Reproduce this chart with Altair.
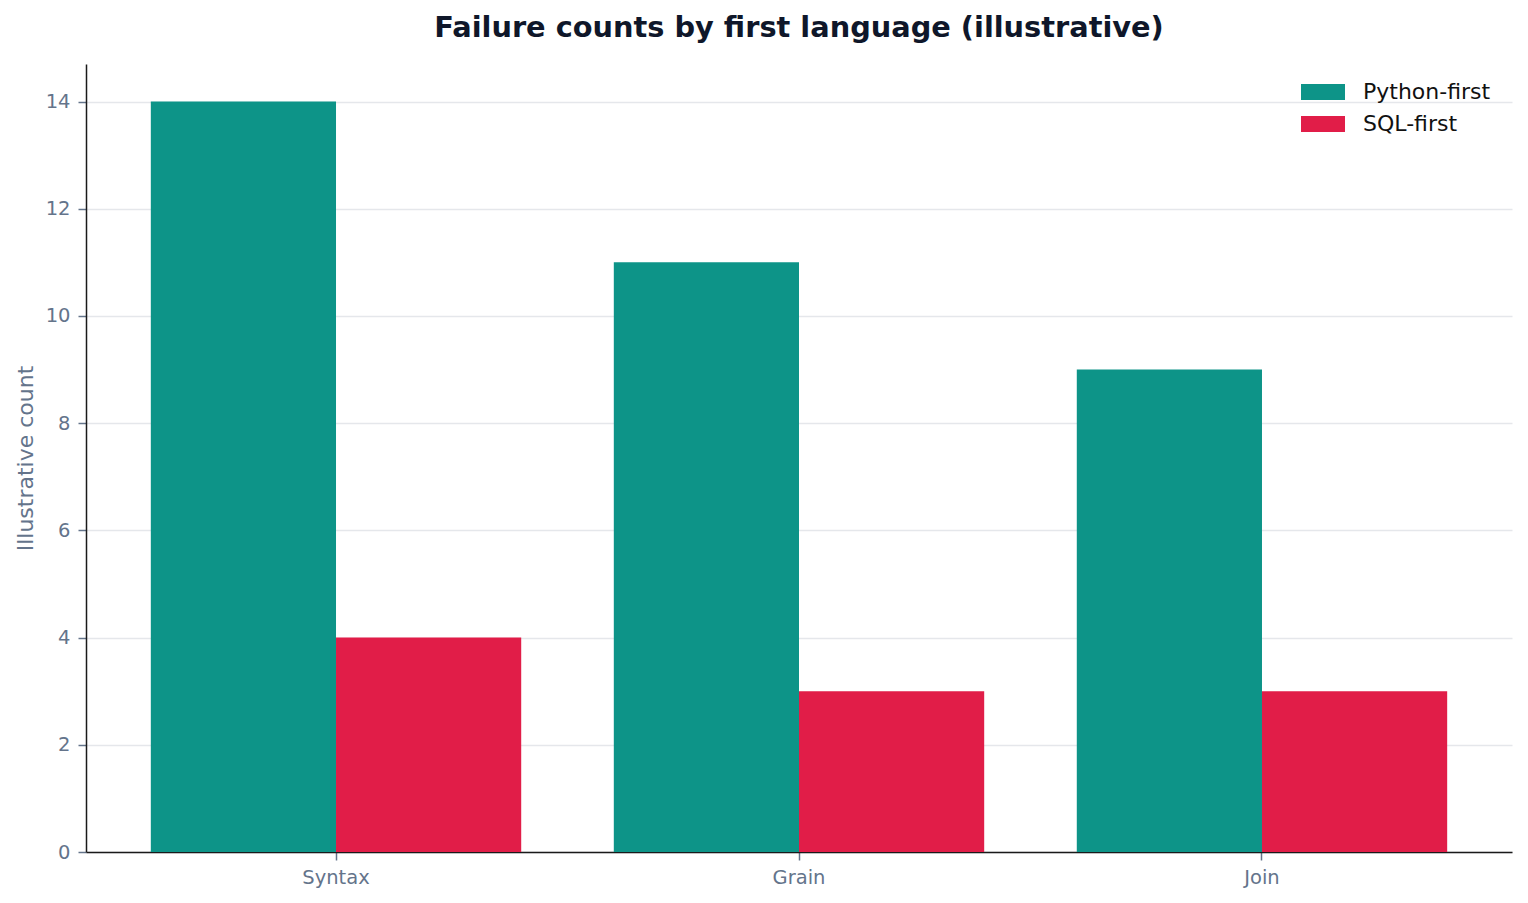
import altair as alt
import pandas as pd

categories = ["Syntax", "Grain", "Join"]
python_first = [14, 11, 9]
sql_first = [4, 3, 3]
series = ["Python-first", "SQL-first"]
colors = ["#0d9488", "#e11d48"]

rows = []
for c, p, s in zip(categories, python_first, sql_first):
    rows.append({"category": c, "group": series[0], "count": p})
    rows.append({"category": c, "group": series[1], "count": s})
df = pd.DataFrame(rows)

FONT = "DejaVu Sans"
GRAY = "#64748b"

rect_path = "M-2.75,-1L2.75,-1L2.75,1L-2.75,1Z"

chart = alt.Chart(df).mark_bar().encode(
    x=alt.X("category:N", sort=categories,
            scale=alt.Scale(paddingInner=0.2, paddingOuter=0.14),
            axis=alt.Axis(title=None, labelAngle=0, labelFontSize=19.5, labelColor=GRAY,
                          labelFont=FONT, labelPadding=8, tickSize=8, tickColor=GRAY,
                          tickWidth=1.5, domainColor="#1a1a1a", domainWidth=1.5, grid=False)),
    xOffset=alt.XOffset("group:N", sort=series, scale=alt.Scale(paddingInner=0, paddingOuter=0)),
    y=alt.Y("count:Q", scale=alt.Scale(domain=[0, 14.7], nice=False, zero=True),
            axis=alt.Axis(title="Illustrative count", values=[0, 2, 4, 6, 8, 10, 12, 14],
                          labelFontSize=19.5, labelColor=GRAY, labelFont=FONT, labelPadding=8,
                          tickSize=8, tickColor=GRAY, tickWidth=1.5,
                          domainColor="#1a1a1a", domainWidth=1.5,
                          grid=True, gridColor="#e5e7eb", gridWidth=1.5,
                          titleFontSize=22, titleColor=GRAY, titleFont=FONT,
                          titleFontWeight="normal", titlePadding=8)),
    color=alt.Color("group:N", sort=series,
                    scale=alt.Scale(domain=series, range=colors),
                    legend=alt.Legend(title=None, orient="none", legendX=1226, legendY=17,
                                      symbolType=rect_path, symbolSize=256,
                                      symbolStrokeWidth=0, symbolOpacity=1,
                                      labelFontSize=22, labelFont=FONT, labelColor="#111111",
                                      labelOffset=29, rowPadding=10, padding=0)),
).properties(
    width=1426,
    height=788,
    title=alt.TitleParams("Failure counts by first language (illustrative)",
                          fontSize=28.8, font=FONT, fontWeight="bold", color="#0f172a",
                          anchor="middle", baseline="alphabetic", offset=0, dy=2),
    autosize=alt.AutoSizeParams(type="none"),
    padding={"left": 78, "top": 56, "right": 8, "bottom": 40},
    background="white",
).configure_view(strokeWidth=0, stroke="transparent")

chart.save("out.html", embed_options={"renderer": "svg", "actions": False})
